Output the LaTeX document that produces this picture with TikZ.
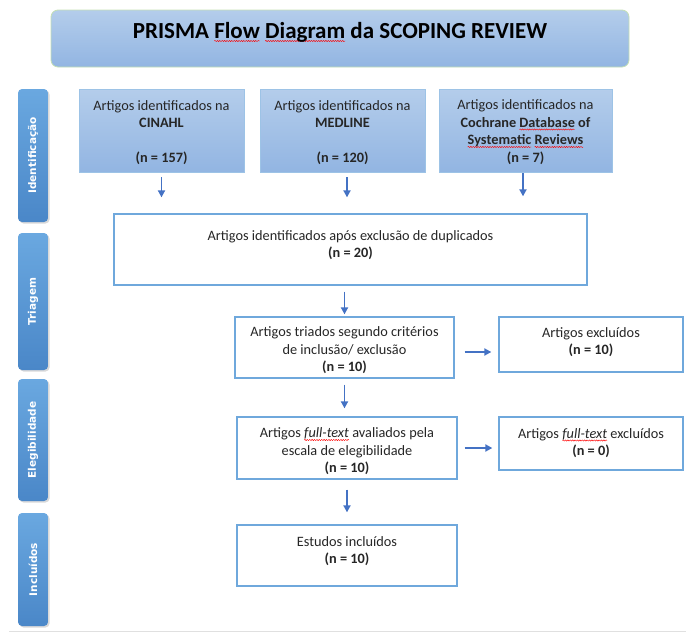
\documentclass[tikz,border=0pt]{standalone}
\usepackage{fontspec}
\setmainfont{Carlito}
\newfontfamily\stagefont{DejaVu Sans}
\usetikzlibrary{arrows.meta,shadows,decorations.pathmorphing}

\definecolor{arrowblue}{HTML}{4472C4}
\definecolor{lineblue}{HTML}{6FA8DC}
\definecolor{stagelight}{HTML}{6AA8E0}
\definecolor{stagedark}{HTML}{4A87C8}
\definecolor{srctop}{HTML}{B4CDEB}
\definecolor{srcbot}{HTML}{92B5E2}
\definecolor{srcline}{HTML}{9DC3E6}
\definecolor{titleline}{HTML}{C5E0B4}
\definecolor{txt}{HTML}{262626}

% red spell-check wave under a word
\newsavebox\wavebox
\newcommand\wavy[1]{\sbox\wavebox{#1}\tikz[overlay,baseline=0pt]\draw[red,
  sharp corners,fill=none,line width=0.45pt,decorate,decoration={snake,
  amplitude=0.6pt,segment length=2.4pt}] (0pt,-2.5pt) -- (\wd\wavebox,-2.5pt);%
  \usebox\wavebox}

\tikzset{
  titlebox/.style={draw=titleline, line width=0.8pt, rounded corners=7pt,
    top color=srctop, bottom color=srcbot, inner sep=0pt, text=black,
    font=\fontsize{23}{26}\selectfont\bfseries},
  srcbox/.style={draw=srcline, line width=0.8pt, top color=srctop,
    bottom color=srcbot, align=center, inner sep=0pt, text=txt,
    font=\fontsize{14.3}{17.5}\selectfont},
  wbox/.style={draw=lineblue, line width=1.3pt, fill=white, align=center,
    inner sep=0pt, text=txt, font=\fontsize{14.3}{17.5}\selectfont},
  stage/.style={rotate=90, rounded corners=4pt, top color=stagelight,
    bottom color=stagedark, minimum height=30pt, text=white,
    font=\stagefont\bfseries\fontsize{10.5}{12}\selectfont,
    drop shadow={shadow xshift=1.5pt, shadow yshift=-1.5pt, opacity=0.3}},
  flow/.style={draw=arrowblue, line width=1.8pt,
    -{Triangle[length=7pt,width=7pt]}}
}

\begin{document}
\begin{tikzpicture}[x=1pt,y=-1pt]
  \useasboundingbox (0,0) rectangle (686,632);

  \node[titlebox, minimum width=578pt, text height=28.5pt, text depth=28.5pt] (T)
    at (340,38.5) {PRISMA \wavy{Flow} \wavy{Diagram} da SCOPING REVIEW};

  % stages
  \node[stage, minimum width=133pt] (S1) at (33,155.5) {Identificação};
  \node[stage, minimum width=137pt] (S2) at (33,301.5) {Triagem};
  \node[stage, minimum width=122pt] (S3) at (33,440) {Elegibilidade};
  \node[stage, minimum width=113pt] (S4) at (33,569.5) {Incluídos};

  % sources
  \node[srcbox, minimum width=165pt, text height=73.5pt, text depth=9.5pt] (A)
    at (161.5,130.5) {Artigos identificados na\\\textbf{CINAHL}\\[17.5pt]
    \textbf{(n = 157)}};
  \node[srcbox, minimum width=165pt, text height=73.5pt, text depth=9.5pt] (B)
    at (342.5,130.5) {Artigos identificados na\\\textbf{MEDLINE}\\[17.5pt]
    \textbf{(n = 120)}};
  \node[srcbox, minimum width=173pt, text height=73pt, text depth=10pt] (C)
    at (525.5,130.5) {Artigos identificados na\\
    \textbf{Cochrane \wavy{Database} of}\\
    \textbf{\wavy{Systematic} \wavy{Reviews}}\\\textbf{(n = 7)}};

  \node[wbox, minimum width=473pt, text height=43.5pt, text depth=27.5pt] (D)
    at (350.5,249.5) {Artigos identificados após exclusão de duplicados\\
    \textbf{(n = 20)}};
  \node[wbox, minimum width=219pt, text height=54.5pt, text depth=6.5pt] (E)
    at (344.5,347.5) {Artigos triados segundo critérios\\
    de inclusão/ exclusão\\\textbf{(n = 10)}};
  \node[wbox, minimum width=184pt, text height=37.5pt, text depth=17.5pt] (F)
    at (591,344.5) {Artigos excluídos\\\textbf{(n = 10)}};
  \node[wbox, minimum width=220pt, text height=55.5pt, text depth=6.5pt] (G)
    at (347,448) {Artigos \wavy{\textit{full-text}} avaliados pela\\
    escala de elegibilidade\\\textbf{(n = 10)}};
  \node[wbox, minimum width=184pt, text height=38.5pt, text depth=14.5pt] (H)
    at (591,443.5) {Artigos \wavy{\textit{full-text}} excluídos\\\textbf{(n = 0)}};
  \node[wbox, minimum width=220pt, text height=38.5pt, text depth=22.5pt] (I)
    at (347,555.5) {Estudos incluídos\\\textbf{(n = 10)}};

  % arrows
  \draw[flow, shorten <=5pt, shorten >=16pt] (A.south) -- (A.south |- D.north);
  \draw[flow, shorten <=5pt, shorten >=16pt] ([xshift=4.5pt]B.south)
    -- ([xshift=4.5pt]B.south |- D.north);
  \draw[flow, shorten <=1pt, shorten >=17pt] ([xshift=-2.5pt]C.south)
    -- ([xshift=-2.5pt]C.south |- D.north);
  \draw[flow, shorten <=6pt, shorten >=2pt] (E.north |- D.south) -- (E.north);
  \draw[flow, shorten <=6pt, shorten >=8pt] (E.south) -- (E.south |- G.north);
  \draw[flow, shorten <=10pt, shorten >=12pt] (G.south) -- (I.north);
  \draw[flow, shorten <=10pt, shorten >=7pt] ([yshift=-4.5pt]E.east)
    -- ([yshift=-4.5pt]E.east -| F.west);
  \draw[flow, shorten <=7pt, shorten >=6pt] (G.east) -- (G.east -| H.west);

  \draw[black!12, line width=0.8pt] (9,631) -- (686,631);
\end{tikzpicture}
\end{document}
